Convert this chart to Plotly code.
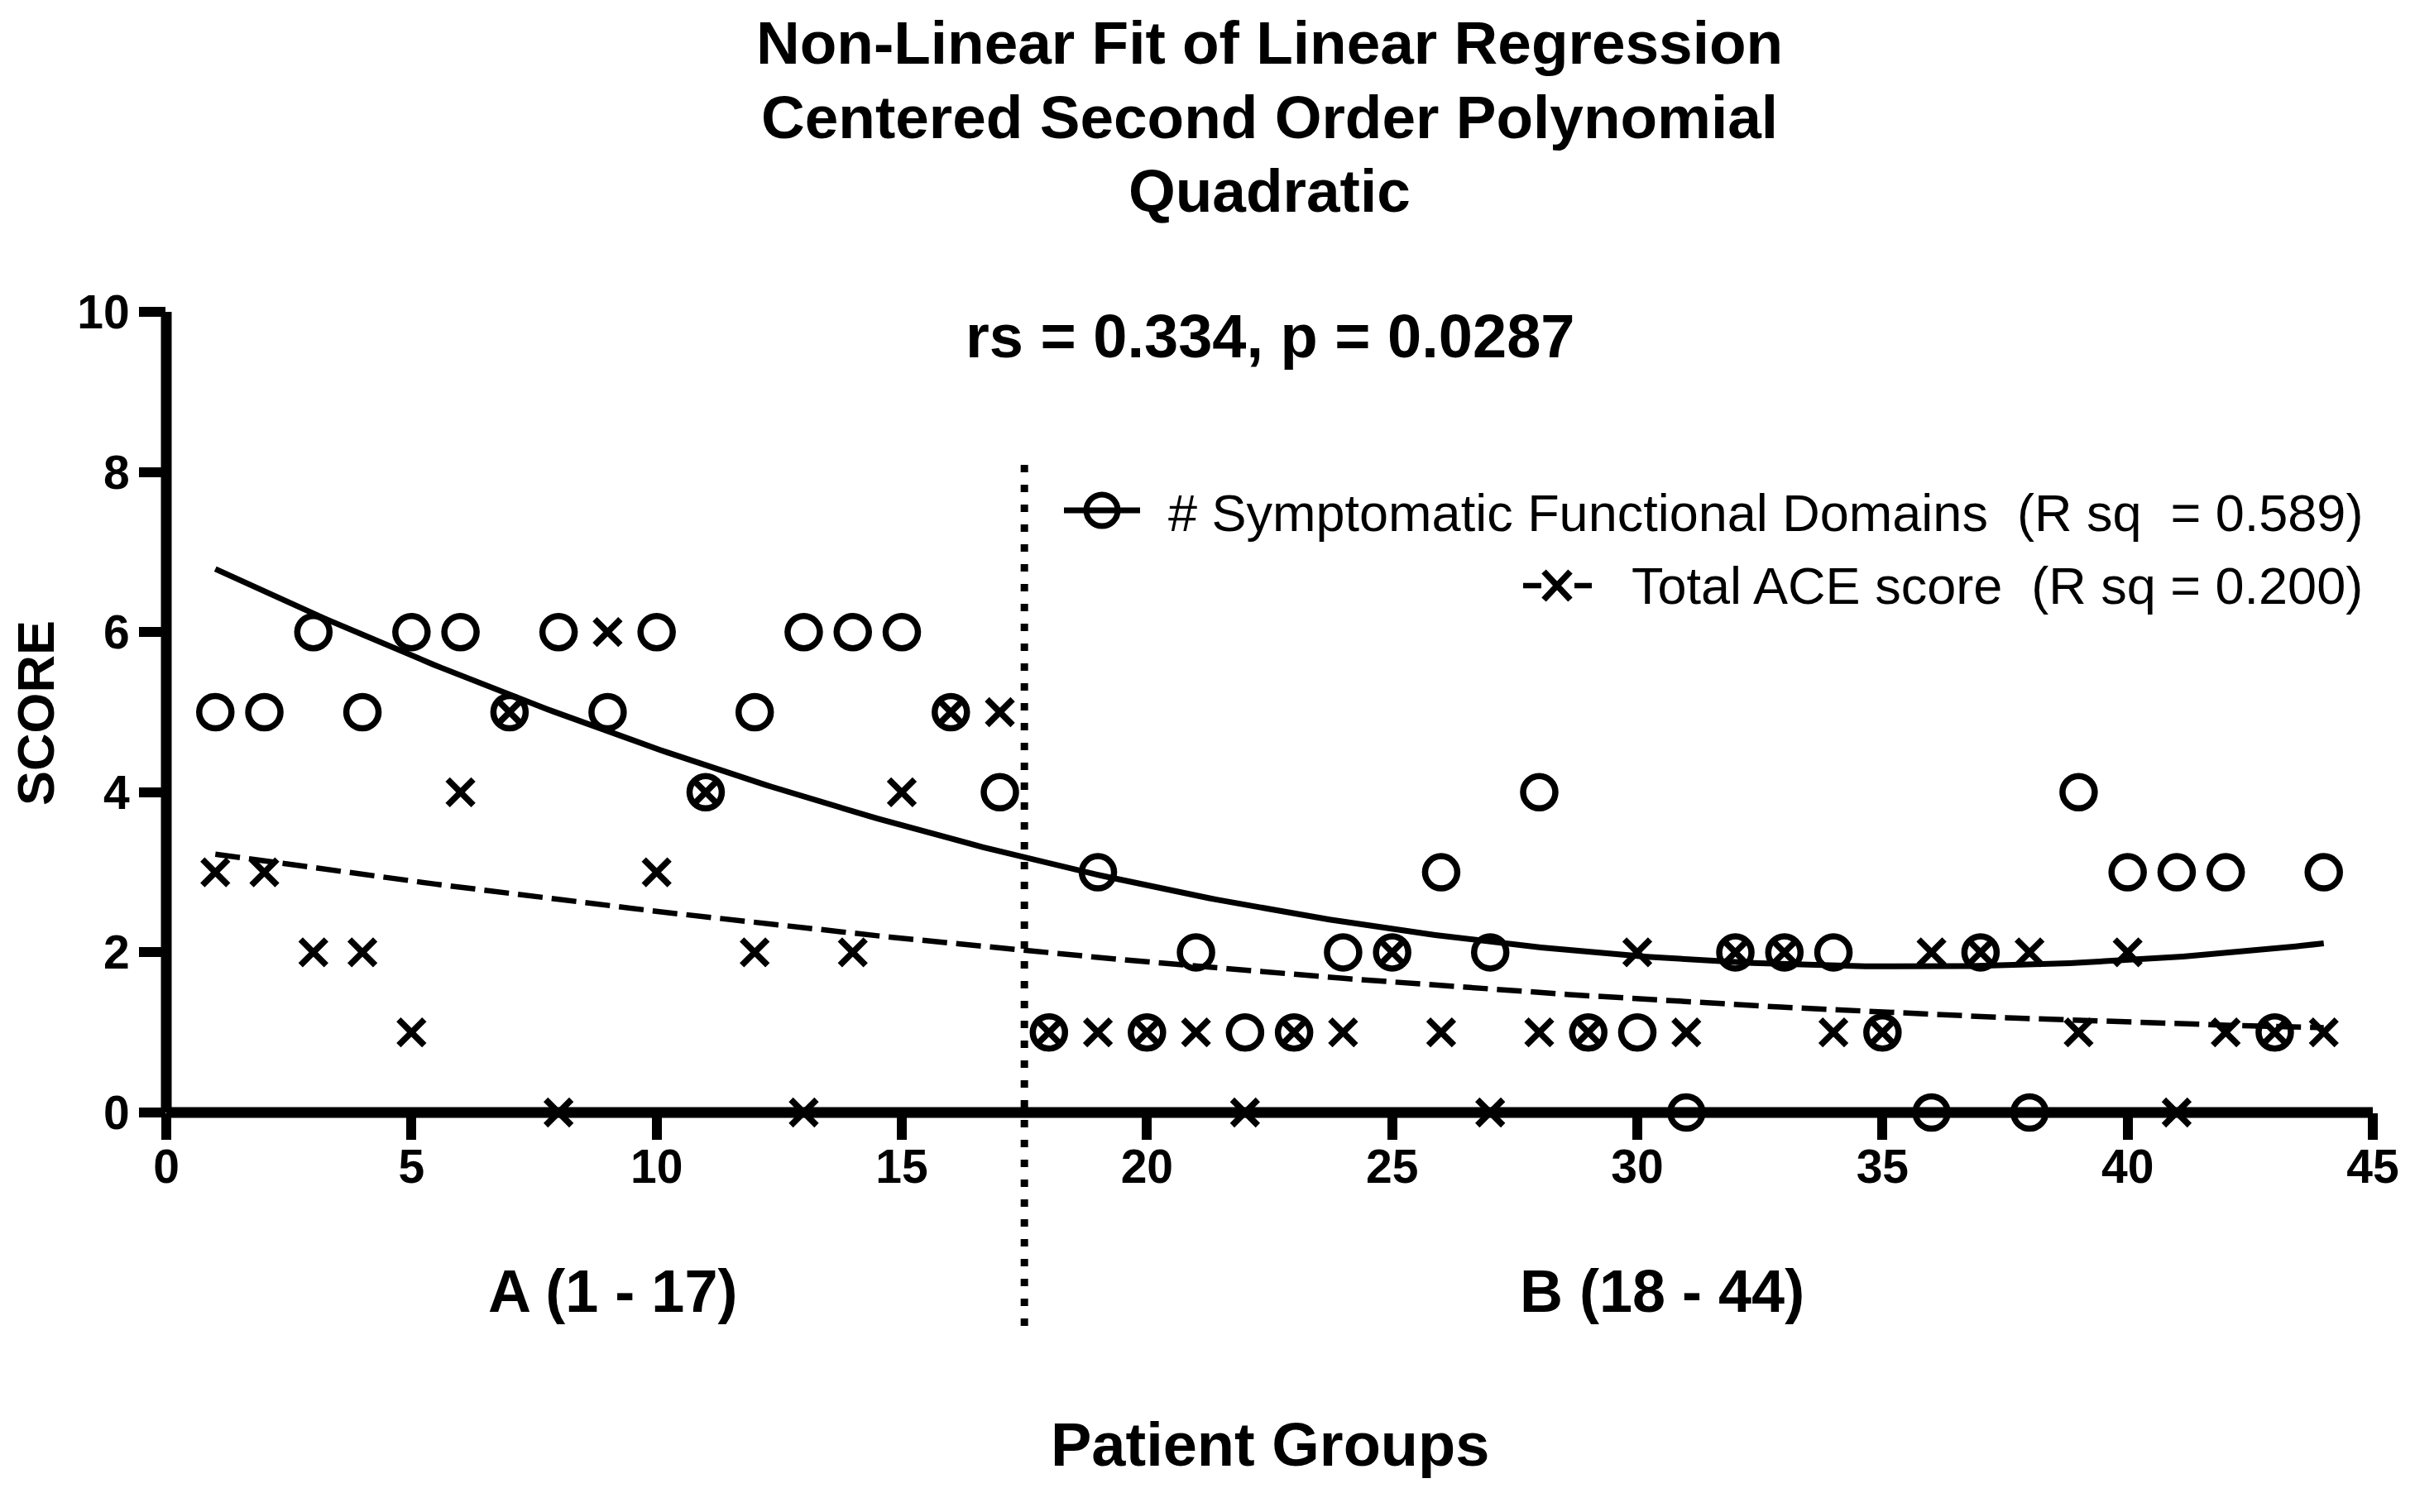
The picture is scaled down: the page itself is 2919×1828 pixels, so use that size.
import numpy as np
import plotly.graph_objects as go

# ---------------- data ----------------
patients = list(range(1, 45))
domains = [5, 5, 6, 5, 6, 6, 5, 6, 5, 6, 4, 5, 6, 6, 6, 5, 4,
           1, 3, 1, 2, 1, 1, 2, 2, 3, 2, 4, 1, 1, 0, 2, 2, 2, 1, 0, 2, 0, 4, 3, 3, 3, 1, 3]
ace = [3, 3, 2, 2, 1, 4, 5, 0, 6, 3, 4, 2, 0, 2, 4, 5, 5,
       1, 1, 1, 1, 0, 1, 1, 2, 1, 0, 1, 1, 2, 1, 2, 2, 1, 1, 2, 2, 2, 1, 2, 0, 1, 1, 1]
x_ticks = [0, 5, 10, 15, 20, 25, 30, 35, 40, 45]
y_ticks = [0, 2, 4, 6, 8, 10]
group_split = 17.5
group_labels = ["A (1 - 17)", "B (18 - 44)"]
group_label_x = [9.1, 30.5]
legend_texts = ["# Symptomatic Functional Domains  (R sq  = 0.589)",
                "Total ACE score  (R sq = 0.200)"]
title_lines = ["Non-Linear Fit of Linear Regression",
               "Centered Second Order Polynomial", "Quadratic"]
subtitle = "rs = 0.334, p = 0.0287"

# ---------------- quadratic fits ----------------
px = np.array(patients, dtype=float)
c_dom = np.polyfit(px, np.array(domains, float), 2)
c_ace = np.polyfit(px, np.array(ace, float), 2)
xf = np.linspace(min(patients), max(patients), 300)
yf_dom = np.polyval(c_dom, xf)
yf_ace = np.polyval(c_ace, xf)

# ---------------- layout geometry ----------------
OFF = 8                      # page body margin
W, H = 2919 - 2 * OFF, 1828 - 2 * OFF
L, T = 201 - OFF, 377 - OFF
PW, PH = 2667, 968
R, B = W - L - PW, H - T - PH


def pxx(p):
    """screen x pixel -> paper"""
    return (p - OFF - L) / PW


def pxy(p):
    """screen y pixel -> paper"""
    return (H - B - (p - OFF)) / PH


FONT = "Arial, Liberation Sans, sans-serif"
BLACK = "#000000"

fig = go.Figure()

fig.add_trace(go.Scatter(x=xf, y=yf_dom, mode="lines",
                         line=dict(color=BLACK, width=7), showlegend=False,
                         hoverinfo="skip"))
fig.add_trace(go.Scatter(x=xf, y=yf_ace, mode="lines",
                         line=dict(color=BLACK, width=6.5, dash="30px,11px"),
                         showlegend=False, hoverinfo="skip"))
fig.add_trace(go.Scatter(x=patients, y=domains, mode="markers", cliponaxis=False,
                         name=legend_texts[0],
                         marker=dict(symbol="circle-open", size=39,
                                     color=BLACK, line=dict(color=BLACK, width=7.5)),
                         showlegend=False))
fig.add_trace(go.Scatter(x=patients, y=ace, mode="markers", cliponaxis=False,
                         name=legend_texts[1],
                         marker=dict(symbol="x-thin-open", size=31,
                                     color=BLACK, line=dict(color=BLACK, width=7.5)),
                         showlegend=False))

shapes = []
# axis lines
shapes.append(dict(type="line", xref="paper", yref="paper", x0=0, x1=1, y0=0, y1=0,
                   line=dict(color=BLACK, width=13)))
shapes.append(dict(type="line", xref="paper", yref="paper", x0=0, x1=0, y0=0, y1=1,
                   line=dict(color=BLACK, width=13)))
# group separator
shapes.append(dict(type="line", xref="x", yref="paper", x0=group_split, x1=group_split,
                   y0=pxy(1603), y1=pxy(554),
                   line=dict(color=BLACK, width=9, dash="9px,15px")))
# legend glyph 1 : line + open circle
shapes.append(dict(type="line", xref="paper", yref="paper", x0=pxx(1286), x1=pxx(1378),
                   y0=pxy(617), y1=pxy(617), line=dict(color=BLACK, width=7)))
shapes.append(dict(type="circle", xref="paper", yref="paper", xsizemode="pixel",
                   ysizemode="pixel", xanchor=pxx(1332), yanchor=pxy(617),
                   x0=-19, x1=19, y0=-19, y1=19, line=dict(color=BLACK, width=7)))
# legend glyph 2 : dashed line + x
shapes.append(dict(type="line", xref="paper", yref="paper", x0=pxx(1841), x1=pxx(1924),
                   y0=pxy(708), y1=pxy(708),
                   line=dict(color=BLACK, width=6.5, dash="22px,40px")))
shapes.append(dict(type="path", xref="paper", yref="paper", xsizemode="pixel",
                   ysizemode="pixel", xanchor=pxx(1882), yanchor=pxy(708),
                   path="M-16,-17 L16,17 M-16,17 L16,-17",
                   line=dict(color=BLACK, width=7.5)))

ann = []
for line_text, ly in zip(title_lines, [52, 141, 231]):
    ann.append(dict(text=line_text, xref="paper", yref="paper", x=0.5,
                    y=pxy(ly), xanchor="center", yanchor="middle", showarrow=False,
                    font=dict(family=FONT, size=73, color=BLACK, weight="bold")))
ann.append(dict(text=subtitle, xref="paper", yref="paper", x=0.5, y=pxy(406),
                xanchor="center", yanchor="middle", showarrow=False,
                font=dict(family=FONT, size=74, color=BLACK, weight="bold")))
for gx, gl in zip(group_label_x, group_labels):
    ann.append(dict(text=gl, xref="x", yref="paper", x=gx, y=pxy(1561),
                    xanchor="center", yanchor="middle", showarrow=False,
                    font=dict(family=FONT, size=72, color=BLACK, weight="bold")))
ann.append(dict(text="Patient Groups", xref="paper", yref="paper", x=0.5, y=pxy(1746),
                xanchor="center", yanchor="middle", showarrow=False,
                font=dict(family=FONT, size=74, color=BLACK, weight="bold")))
ann.append(dict(text="SCORE", xref="paper", yref="paper", x=pxx(43), y=pxy(862),
                xanchor="center", yanchor="middle", textangle=-90, showarrow=False,
                font=dict(family=FONT, size=63, color=BLACK, weight="bold")))
ann.append(dict(text=legend_texts[0], xref="paper", yref="paper", x=pxx(2858),
                y=pxy(620), xanchor="right", yanchor="middle", showarrow=False,
                font=dict(family=FONT, size=63, color=BLACK)))
ann.append(dict(text=legend_texts[1], xref="paper", yref="paper", x=pxx(2858),
                y=pxy(708), xanchor="right", yanchor="middle", showarrow=False,
                font=dict(family=FONT, size=63, color=BLACK)))

fig.update_layout(
    width=W, height=H,
    margin=dict(l=L, r=R, t=T, b=B, autoexpand=False),
    paper_bgcolor="white", plot_bgcolor="white",
    showlegend=False,
    shapes=shapes, annotations=ann,
    xaxis=dict(range=[0, 45], tickvals=x_ticks, ticktext=[str(v) for v in x_ticks],
               showgrid=False, zeroline=False, showline=False,
               ticks="outside", ticklen=32, tickwidth=12, tickcolor=BLACK,
               ticklabelstandoff=-16,
               tickfont=dict(family=FONT, size=57, color=BLACK, weight="bold")),
    yaxis=dict(range=[0, 10], tickvals=y_ticks, ticktext=[str(v) for v in y_ticks],
               showgrid=False, zeroline=False, showline=False,
               ticks="outside", ticklen=32, tickwidth=12, tickcolor=BLACK,
               tickfont=dict(family=FONT, size=57, color=BLACK, weight="bold")),
)

fig.write_html("out.html")
